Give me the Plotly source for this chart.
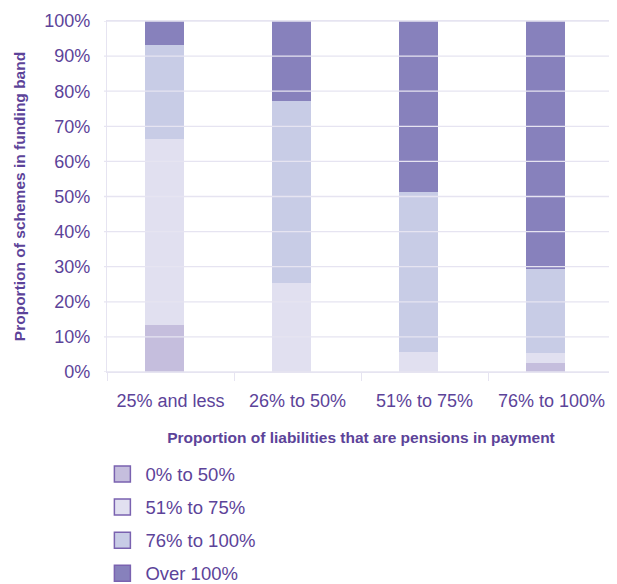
import plotly.graph_objects as go

categories = ["25% and less", "26% to 50%", "51% to 75%", "76% to 100%"]
series_names = ["0% to 50%", "51% to 75%", "76% to 100%", "Over 100%"]
band_0_50 = [13.4, 0.0, 0.0, 2.6]
band_51_75 = [53.0, 25.4, 5.7, 2.8]
band_76_100 = [26.8, 51.8, 45.6, 24.0]
band_over_100 = [6.8, 22.8, 48.7, 70.6]
y_ticks = [0, 10, 20, 30, 40, 50, 60, 70, 80, 90, 100]
y_tick_labels = [f"{v}%" for v in y_ticks]

colors = ["#c5bedd", "#e1e0f0", "#c8cce6", "#8781bc"]
text_color = "#5c4399"
grid_color = "#e6e4f1"
font_family = "Liberation Sans, Arial, sans-serif"

fig = go.Figure()
for name, vals, col in zip(series_names, [band_0_50, band_51_75, band_76_100, band_over_100], colors):
    fig.add_trace(go.Bar(x=categories, y=vals, name=name, width=0.31, offset=-0.2,
                         marker=dict(color=col, line=dict(width=0)), showlegend=False))
# legend entries
for i, (name, col) in enumerate(zip(series_names, colors)):
    fig.add_trace(go.Scatter(x=[None], y=[None], mode="markers", name=name, legendgroup=f"g{i}",
                             marker=dict(symbol="square", size=16, color=col,
                                         line=dict(color="#7a62b0", width=1.5))))

# gridlines drawn above bars
for v in y_ticks:
    fig.add_shape(type="line", xref="paper", yref="y", x0=-0.006, x1=1, y0=v, y1=v,
                  line=dict(color=grid_color, width=1.3), layer="above")

fig.update_layout(
    barmode="stack",
    width=609, height=576,
    margin=dict(l=99, r=2, t=13, b=212, autoexpand=False),
    paper_bgcolor="white", plot_bgcolor="white",
    font=dict(family=font_family, color=text_color, size=17),
    legend=dict(orientation="v", x=-0.015, xanchor="left", y=-0.238, yanchor="top",
                font=dict(size=18.5, color=text_color), traceorder="grouped",
                tracegroupgap=6, itemsizing="trace", itemwidth=36),
    xaxis=dict(
        title=dict(text="<b>Proportion of liabilities that are pensions in payment</b>",
                   font=dict(size=15.5, color=text_color), standoff=22),
        tickfont=dict(size=18, color=text_color), ticklabelstandoff=12,
        showline=True, linecolor=grid_color, linewidth=1.3, mirror=True,
        ticks="outside", tickson="boundaries", ticklen=8, tickcolor=grid_color, tickwidth=1.3,
        showgrid=False, automargin=False,
    ),
    yaxis=dict(
        title=dict(text="<b>Proportion of schemes in funding band</b>",
                   font=dict(size=15.5, color=text_color), standoff=14),
        range=[0, 100], tickvals=y_ticks, ticktext=y_tick_labels,
        tickfont=dict(size=18, color=text_color),
        showgrid=False, zeroline=False, automargin=False,
        showline=True, linecolor=grid_color, linewidth=1.3, mirror=True,
        ticks="", ticklabelstandoff=12,
    ),
)

fig.write_html("out.html")
